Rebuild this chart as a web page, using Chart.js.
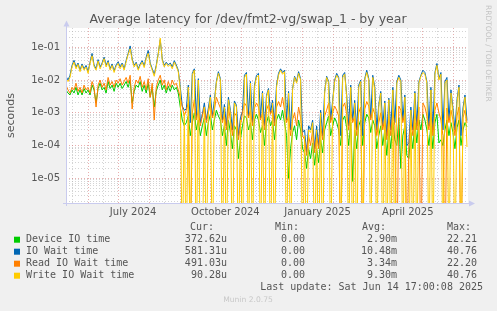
<!DOCTYPE html>
<html>
<head>
<meta charset="utf-8">
<script src="https://cdn.jsdelivr.net/npm/chart.js@4/dist/chart.umd.min.js"></script>
<style>
  html, body { margin: 0; padding: 0; background: #f0f0f0; }
  canvas { display: block; }
</style>
</head>
<body>
<canvas id="latency" width="497" height="311"></canvas>
<script>
// one sample every 2 days, starting 10 May 2024
const startDate = Date.UTC(2024, 4, 10);
const endDate = Date.UTC(2025, 5, 15);
const stepDays = 2;

const seriesNames = ['Device IO time', 'IO Wait time', 'Read IO Wait time', 'Write IO Wait time'];
const seriesColors = ['#00cc00', '#0066b3', '#ff8000', '#ffcc00'];

const deviceIO = [
  5e-3, 4e-3, 3.5e-3, 5e-3, 4e-3, 6e-3, 3.5e-3, 5e-3, 3.5e-3, 5.5e-3,
  4e-3, 5e-3, 3.5e-3, 7e-3, 5e-3, 2e-3, 5.5e-3, 8e-3, 5e-3, 6e-3,
  4e-3, 9e-3, 5.5e-3, 7e-3, 4.5e-3, 8e-3, 6e-3, 8e-3, 5.5e-3, 7e-3,
  9e-3, 6e-3, 1e-2, 2e-3, 4.5e-3, 7e-3, 6e-3, 9e-3, 4.5e-3, 7e-3,
  4e-3, 8e-3, 3e-3, 6e-3, 1.5e-3, 4.5e-3, 7e-3, 1e-2, 5e-3, 7e-3,
  4e-3, 6.5e-3, 4.5e-3, 7e-3, 5e-3, 6e-3, 4e-3, 1.5e-3, 6e-4, 4e-4,
  5e-4, 8e-4, 2e-4, 5e-4, 1e-3, 3e-4, 6e-4, 2e-4, 4e-4, 7e-4,
  2e-4, 5e-4, 9e-4, 3e-4, 6e-4, 1.2e-3, 8e-4, 6e-4, 2e-4, 4e-4,
  1e-4, 6e-4, 2.5e-4, 8e-5, 4e-4, 3e-4, 4e-5, 1.5e-4, 4e-4, 8e-4,
  7e-4, 3e-4, 5e-4, 1.5e-4, 6e-4, 9e-4, 6e-4, 2.5e-4, 4e-4, 1e-4,
  5e-4, 8e-4, 4e-4, 6e-4, 1.5e-4, 6e-4, 9e-4, 6e-4, 1.2e-3, 5e-4,
  2e-4, 1e-5, 8e-5, 2.5e-4, 4e-4, 1.5e-4, 6e-4, 3e-4, 8e-5, 6e-5,
  2e-5, 8e-5, 4e-5, 1.2e-4, 2.5e-5, 8e-5, 3e-5, 1.5e-4, 6e-5, 3e-4,
  5e-4, 8e-4, 2e-4, 4e-4, 7e-4, 5e-4, 3e-4, 1e-4, 6e-4, 8e-4,
  3.5e-4, 1e-4, 5e-4, 8e-6, 3e-4, 8e-5, 4e-4, 6e-4, 1e-4, 5e-4,
  9e-4, 7e-4, 2.5e-4, 6e-4, 4e-4, 8e-5, 2e-4, 4e-4, 1e-4, 3e-4,
  5e-5, 3e-4, 8e-5, 5e-4, 1.5e-4, 1e-4, 7e-4, 2e-5, 2e-4, 4e-4,
  5e-5, 4e-5, 2.5e-4, 8e-5, 5e-4, 1.2e-4, 6e-4, 3e-4, 9e-4, 6e-4,
  3e-4, 1e-4, 4e-4, 8e-5, 5e-4, 9e-4, 1.2e-4, 1.5e-4, 1e-4, 3e-4,
  6e-4, 2e-4, 5e-4, 2.5e-4, 8e-5, 3.5e-4, 6e-4, 1e-4, 3e-4, 5e-4,
  3.73e-4
];

const ioWait = [
  1.3e-2, 1e-2, 1.4e-2, 2.8e-2, 4e-2, 2.5e-2, 3.3e-2, 2e-2, 3.1e-2, 2.2e-2,
  2.8e-2, 1.8e-2, 3.5e-2, 6.5e-2, 2.9e-2, 2.2e-2, 4.2e-2, 2.5e-2, 3.3e-2, 5e-2,
  2.8e-2, 3.9e-2, 2.2e-2, 3.1e-2, 1.9e-2, 2.9e-2, 3.6e-2, 2.5e-2, 3.3e-2, 2.2e-2,
  4e-2, 6.5e-2, 1.1e-1, 4.4e-2, 2.8e-2, 3.5e-2, 2.2e-2, 3.1e-2, 3.9e-2, 2.7e-2,
  5e-2, 8e-2, 3.3e-2, 2.2e-2, 1.5e-2, 2.8e-2, 6.5e-2, 1.7e-1, 4.4e-2, 2.8e-2,
  3.5e-2, 2.9e-2, 3.3e-2, 2.5e-2, 3.9e-2, 2.9e-2, 2e-2, 6e-3, 1.6e-3, 1.2e-3,
  1.3e-3, 7e-3, 5e-4, 1.6e-2, 2.2e-2, 7e-4, 1.1e-2, 5e-4, 9e-4, 2e-3,
  6e-4, 1.4e-3, 3.5e-3, 8e-4, 2.4e-3, 9e-3, 1.8e-2, 1.1e-2, 6e-4, 1.8e-3,
  4e-4, 3e-3, 1.2e-3, 3e-4, 2.3e-3, 1.7e-3, 2e-4, 7e-4, 1.1e-3, 1.4e-2,
  1.7e-2, 8e-4, 9e-3, 5e-4, 7e-3, 1.4e-2, 1.6e-2, 7e-4, 4.5e-3, 4e-4,
  3.4e-3, 5.5e-3, 1e-3, 2.4e-3, 5e-4, 7e-3, 1.6e-2, 2.2e-2, 1.7e-2, 2e-2,
  6e-4, 4.5e-3, 3e-4, 5.5e-3, 1.3e-2, 9e-3, 1.8e-2, 1.1e-2, 2.5e-4, 3e-4,
  6e-5, 4e-4, 3e-4, 6e-4, 8e-5, 4e-4, 1e-4, 1.2e-3, 2e-4, 4.5e-3,
  1.3e-2, 9e-3, 6e-4, 2.4e-3, 1e-2, 1.6e-2, 1.2e-2, 2e-4, 1.4e-2, 1.7e-2,
  3.5e-3, 4e-4, 7e-3, 6e-4, 2.4e-3, 3e-4, 7e-3, 1e-2, 2e-4, 1.1e-2,
  2e-2, 1.1e-2, 7e-4, 1.4e-2, 6e-3, 3e-4, 1.8e-3, 4.5e-3, 4e-4, 2.3e-3,
  2e-4, 2.8e-3, 3e-4, 6e-3, 5e-4, 9e-3, 1.4e-2, 1e-2, 6e-4, 3.5e-3,
  1e-4, 1.2e-4, 1.5e-3, 3e-4, 4.5e-3, 4e-4, 9e-3, 1.4e-2, 2e-2, 1.7e-2,
  9e-3, 4e-4, 6e-3, 3e-4, 1.7e-2, 3.2e-2, 1.1e-2, 1.7e-2, 3e-4, 9e-3,
  1.2e-2, 6e-4, 5e-3, 1.4e-3, 3e-4, 2.5e-3, 7e-3, 2e-4, 1.4e-3, 3.5e-3,
  5.81e-4
];

const readWait = [
  7e-3, 5e-3, 4e-3, 6e-3, 5e-3, 8e-3, 4.5e-3, 6e-3, 4e-3, 7e-3,
  5e-3, 6e-3, 4e-3, 9e-3, 6e-3, 1.5e-3, 7e-3, 1e-2, 6e-3, 8e-3,
  5e-3, 1.2e-2, 7e-3, 9e-3, 6e-3, 1e-2, 8e-3, 1.1e-2, 7e-3, 9e-3,
  1.2e-2, 8e-3, 1.4e-2, 1.3e-3, 6e-3, 1e-2, 8e-3, 1.3e-2, 6e-3, 9e-3,
  5e-3, 1.1e-2, 3e-3, 8e-3, 6e-4, 6e-3, 1e-2, 1.4e-2, 7e-3, 1e-2,
  5e-3, 9e-3, 6e-3, 1e-2, 7e-3, 8e-3, 5e-3, 3e-3, 1.5e-3, 8e-4,
  1.2e-3, 2e-3, 0, 1e-3, 2.5e-3, 6e-4, 1.2e-3, 4e-4, 8e-4, 1.5e-3,
  5e-4, 1e-3, 2e-3, 7e-4, 1.2e-3, 3e-3, 2e-3, 1.4e-3, 5e-4, 9e-4,
  3e-4, 1.5e-3, 6e-4, 2e-4, 1e-3, 8e-4, 1.5e-4, 4e-4, 1e-3, 2e-3,
  1.6e-3, 7e-4, 1.2e-3, 4e-4, 1.4e-3, 2e-3, 1.5e-3, 6e-4, 1e-3, 3e-4,
  1.2e-3, 1.8e-3, 9e-4, 1.3e-3, 4e-4, 1.5e-3, 2.2e-3, 1.5e-3, 3e-3, 1.2e-3,
  5e-4, 8e-4, 2e-4, 6e-4, 1e-3, 4e-4, 1.5e-3, 7e-4, 2e-4, 1.5e-4,
  5e-5, 2e-4, 1e-4, 3e-4, 6e-5, 2e-4, 8e-5, 4e-4, 1.5e-4, 8e-4,
  1.2e-3, 2e-3, 5e-4, 1e-3, 1.6e-3, 1.2e-3, 8e-4, 0, 1.5e-3, 2e-3,
  9e-4, 3e-4, 1.2e-3, 5e-4, 8e-4, 2e-4, 1e-3, 1.5e-3, 0, 1.3e-3,
  2.2e-3, 1.6e-3, 6e-4, 1.4e-3, 9e-4, 2e-4, 5e-4, 1e-3, 3e-4, 7e-4,
  1.5e-4, 8e-4, 2e-4, 1.2e-3, 4e-4, 0, 1.6e-3, 1.2e-3, 5e-4, 1e-3,
  0, 1e-4, 6e-4, 2e-4, 1.2e-3, 3e-4, 1.5e-3, 0, 2e-3, 1.5e-3,
  8e-4, 3e-4, 1e-3, 2e-4, 1.2e-3, 2e-3, 1e-3, 6e-4, 2e-4, 0,
  1.4e-3, 5e-4, 1.2e-3, 6e-4, 2e-4, 8e-4, 1.5e-3, 0, 7e-4, 1.2e-3,
  4.91e-4
];

const writeWait = [
  1.1e-2, 9e-3, 1.2e-2, 2.5e-2, 3.5e-2, 2.2e-2, 3e-2, 1.8e-2, 2.8e-2, 2e-2,
  2.5e-2, 1.6e-2, 3.2e-2, 5.5e-2, 2.6e-2, 2e-2, 3.8e-2, 2.2e-2, 3e-2, 4.5e-2,
  2.5e-2, 3.5e-2, 2e-2, 2.8e-2, 1.7e-2, 2.6e-2, 3.2e-2, 2.2e-2, 3e-2, 2e-2,
  3.6e-2, 6e-2, 9e-2, 4e-2, 2.5e-2, 3.2e-2, 2e-2, 2.8e-2, 3.5e-2, 2.4e-2,
  4.5e-2, 6.5e-2, 3e-2, 2e-2, 1.3e-2, 2.5e-2, 6e-2, 1.9e-1, 4e-2, 2.5e-2,
  3.2e-2, 2.6e-2, 3e-2, 2.2e-2, 3.5e-2, 2.6e-2, 1.8e-2, 5e-3, 0, 1e-3,
  0, 6e-3, 0, 1.4e-2, 2e-2, 0, 1e-2, 0, 0, 1.5e-3,
  0, 1e-3, 3e-3, 0, 2e-3, 8e-3, 1.6e-2, 1e-2, 0, 1.5e-3,
  0, 2.5e-3, 1e-3, 0, 2e-3, 1.5e-3, 0, 6e-4, 0, 1.2e-2,
  1.5e-2, 0, 8e-3, 0, 6e-3, 1.2e-2, 1.4e-2, 0, 4e-3, 0,
  3e-3, 5e-3, 0, 2e-3, 0, 6e-3, 1.4e-2, 2e-2, 1.5e-2, 1.8e-2,
  0, 4e-3, 0, 5e-3, 1.2e-2, 8e-3, 1.6e-2, 1e-2, 0, 2e-4,
  0, 3e-4, 2.5e-4, 5e-4, 0, 3e-4, 0, 1e-3, 0, 4e-3,
  1.2e-2, 8e-3, 0, 2e-3, 9e-3, 1.4e-2, 1.1e-2, 0, 1.2e-2, 1.5e-2,
  3e-3, 0, 6e-3, 0, 2e-3, 0, 6e-3, 9e-3, 0, 1e-2,
  1.7e-2, 1e-2, 0, 1.2e-2, 5e-3, 0, 1.5e-3, 4e-3, 0, 2e-3,
  0, 2.5e-3, 0, 5e-3, 0, 8e-3, 1.2e-2, 9e-3, 0, 3e-3,
  0, 0, 1.2e-3, 0, 4e-3, 0, 8e-3, 1.3e-2, 1.7e-2, 1.5e-2,
  8e-3, 0, 5e-3, 0, 1.5e-2, 2.8e-2, 1e-2, 1.5e-2, 0, 8e-3,
  1e-2, 0, 4e-3, 1e-3, 0, 2e-3, 6e-3, 0, 1e-3, 3e-3,
  9.03e-5
];

const yMin = 1.76e-6;
const yMax = 0.388;
const yTickValues = [1e-5, 1e-4, 1e-3, 1e-2, 1e-1];
const yTickLabels = ['1e-05', '1e-04', '1e-03', '1e-02', '1e-01'];
const xLabelMonths = [[2024, 6], [2024, 9], [2025, 0], [2025, 3]];
const xTickLabels = ['July 2024', 'October 2024', 'January 2025', 'April 2025'];

const legendCur = ['372.62u', '581.31u', '491.03u', '90.28u'];
const legendMin = ['0.00', '0.00', '0.00', '0.00'];
const legendAvg = ['2.90m', '10.48m', '3.34m', '9.30m'];
const legendMax = ['22.21', '40.76', '22.20', '40.76'];

const chartTitle = 'Average latency for /dev/fmt2-vg/swap_1 - by year';
const lastUpdate = 'Last update: Sat Jun 14 17:00:08 2025';

const dayOf = (y, m, d) => (Date.UTC(y, m, d) - startDate) / 864e5;
const xMax = (endDate - startDate) / 864e5;

// a log axis cannot show 0: like rrdtool, send zeros below the bottom edge (clipped)
function toPoints(values) {
  return values.map((v, i) => ({ x: i * stepDays, y: v > 0 ? v : yMin / 100 }));
}

function monthTicks() {
  const ticks = [];
  let y = 2024, m = 4;
  while (dayOf(y, m, 1) <= xMax) {
    const first = dayOf(y, m, 1);
    const mid = dayOf(y, m, 16);
    if (first >= 0) ticks.push({ value: first, kind: 'major', label: '' });
    if (mid >= 0 && mid <= xMax) {
      const k = xLabelMonths.findIndex(p => p[0] === y && p[1] === m);
      ticks.push({ value: mid, kind: 'minor', label: k >= 0 ? xTickLabels[k] : '' });
    }
    m++;
    if (m > 11) { m = 0; y++; }
  }
  return ticks;
}

function logTicks() {
  const ticks = [];
  for (let e = -6; e <= -1; e++) {
    for (let s = 1; s <= 9; s++) {
      const v = s * Math.pow(10, e);
      if (v >= yMin && v <= yMax) {
        const k = yTickValues.findIndex(t => Math.abs(t - v) / t < 1e-9);
        ticks.push({ value: v, kind: s === 1 ? 'major' : 'minor', label: k >= 0 ? yTickLabels[k] : '' });
      }
    }
  }
  return ticks;
}

const majorGrid = 'rgba(215, 110, 110, 0.55)';
const minorGrid = 'rgba(170, 170, 170, 0.5)';
const axisColor = '#c9cbee';
const textColor = '#555555';

const muninPlugin = {
  id: 'munin',
  beforeDraw(chart) {
    const { ctx, chartArea: a } = chart;
    ctx.save();
    ctx.fillStyle = '#f0f0f0';
    ctx.fillRect(0, 0, chart.width, chart.height);
    ctx.fillStyle = '#ffffff';
    ctx.fillRect(a.left, a.top, a.right - a.left, a.bottom - a.top);
    ctx.restore();
  },
  afterDraw(chart) {
    const { ctx, chartArea: a } = chart;
    ctx.save();

    // axes with arrows
    ctx.strokeStyle = axisColor;
    ctx.fillStyle = axisColor;
    ctx.lineWidth = 1;
    ctx.beginPath();
    ctx.moveTo(a.left + 0.5, a.bottom + 3);
    ctx.lineTo(a.left + 0.5, 24);
    ctx.moveTo(a.left - 3, a.bottom + 0.5);
    ctx.lineTo(a.right + 3, a.bottom + 0.5);
    ctx.stroke();
    ctx.beginPath();
    ctx.moveTo(a.left - 2.5, 26.5);
    ctx.lineTo(a.left + 3.5, 26.5);
    ctx.lineTo(a.left + 0.5, 20.5);
    ctx.closePath();
    ctx.fill();
    ctx.beginPath();
    ctx.moveTo(a.right + 1, a.bottom - 2.5);
    ctx.lineTo(a.right + 1, a.bottom + 3.5);
    ctx.lineTo(a.right + 7, a.bottom + 0.5);
    ctx.closePath();
    ctx.fill();

    // title
    ctx.fillStyle = textColor;
    ctx.font = '12.5px "DejaVu Sans"';
    ctx.textAlign = 'center';
    ctx.textBaseline = 'middle';
    ctx.fillText(chartTitle, 248, 19.5);

    // rrdtool watermark
    ctx.save();
    ctx.translate(488, 5);
    ctx.rotate(Math.PI / 2);
    ctx.font = '7.5px "DejaVu Sans"';
    ctx.fillStyle = '#c4c4c4';
    ctx.textAlign = 'left';
    ctx.fillText('RRDTOOL / TOBI OETIKER', 0, 0);
    ctx.restore();

    // legend table
    ctx.font = '10px "DejaVu Sans Mono"';
    ctx.fillStyle = textColor;
    ctx.textBaseline = 'middle';
    ctx.textAlign = 'left';
    ctx.fillText('Cur:', 190, 227.5);
    ctx.fillText('Min:', 275, 227.5);
    ctx.fillText('Avg:', 362, 227.5);
    ctx.fillText('Max:', 447, 227.5);
    seriesNames.forEach((name, i) => {
      const y = 239.7 + i * 12;
      ctx.fillStyle = seriesColors[i];
      ctx.fillRect(14, y - 3, 6, 6);
      ctx.fillStyle = textColor;
      ctx.textAlign = 'left';
      ctx.fillText(name, 26, y);
      ctx.textAlign = 'right';
      ctx.fillText(legendCur[i], 227, y);
      ctx.fillText(legendMin[i], 305, y);
      ctx.fillText(legendAvg[i], 397, y);
      ctx.fillText(legendMax[i], 477, y);
    });
    ctx.textAlign = 'right';
    ctx.fillText(lastUpdate, 483, 287.7);

    ctx.font = '7.6px "DejaVu Sans"';
    ctx.fillStyle = '#c8c8c8';
    ctx.textAlign = 'center';
    ctx.fillText('Munin 2.0.75', 248, 300.5);
    ctx.restore();
  }
};

const seriesValues = [deviceIO, ioWait, readWait, writeWait];

new Chart(document.getElementById('latency'), {
  type: 'line',
  data: {
    datasets: seriesNames.map((name, i) => ({
      label: name,
      data: toPoints(seriesValues[i]),
      borderColor: seriesColors[i],
      backgroundColor: seriesColors[i],
      borderWidth: 1,
      pointRadius: 0,
      tension: 0,
      order: 4 - i
    }))
  },
  options: {
    responsive: false,
    animation: false,
    devicePixelRatio: 1,
    layout: { padding: { left: 0, right: 29, top: 28, bottom: 88 } },
    plugins: {
      legend: { display: false },
      tooltip: { enabled: false },
      title: { display: false }
    },
    scales: {
      x: {
        type: 'linear',
        min: 0,
        max: xMax,
        afterBuildTicks: scale => { scale.ticks = monthTicks(); },
        afterFit: scale => { scale.height = 20; },
        grid: {
          drawTicks: false,
          color: ctx => (ctx.tick && ctx.tick.kind === 'major') ? majorGrid : minorGrid
        },
        border: { display: false, dash: [1, 2] },
        ticks: {
          autoSkip: false,
          maxRotation: 0,
          padding: 3,
          color: textColor,
          font: { family: 'DejaVu Sans', size: 10 },
          callback: (value, index, ticks) => ticks[index].label
        }
      },
      y: {
        type: 'logarithmic',
        min: yMin,
        max: yMax,
        afterBuildTicks: scale => { scale.ticks = logTicks(); },
        afterFit: scale => { scale.width = 66; },
        grid: {
          drawTicks: false,
          color: ctx => (ctx.tick && ctx.tick.kind === 'major') ? majorGrid : minorGrid
        },
        border: { display: false, dash: [1, 2] },
        title: {
          display: true,
          text: 'seconds',
          color: textColor,
          font: { family: 'DejaVu Sans', size: 11 },
          padding: { top: 5, bottom: 0 }
        },
        ticks: {
          autoSkip: false,
          padding: 6,
          color: textColor,
          font: { family: 'DejaVu Sans', size: 10 },
          callback: (value, index, ticks) => ticks[index].label
        }
      }
    }
  },
  plugins: [muninPlugin]
});
</script>
</body>
</html>
